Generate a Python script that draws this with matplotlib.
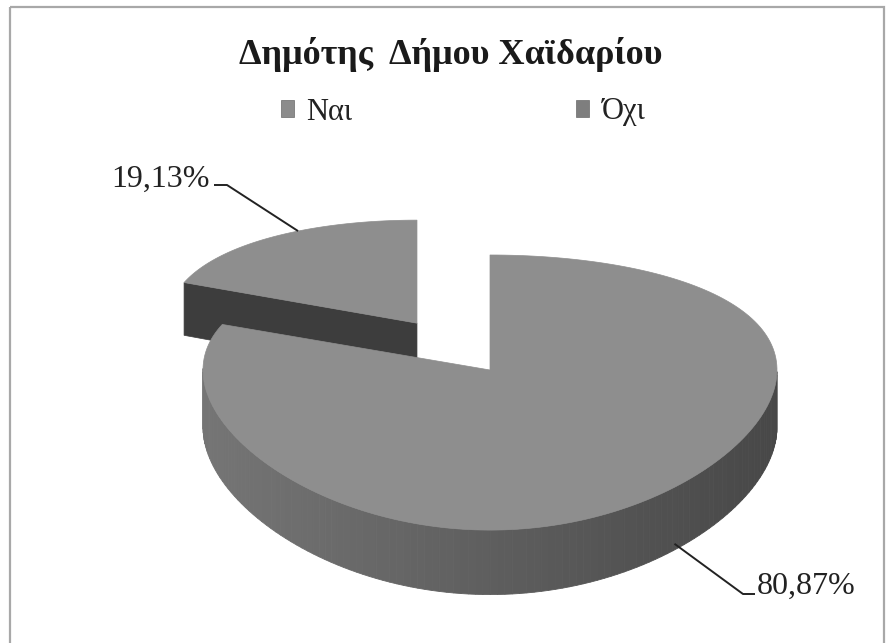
import numpy as np
import matplotlib.pyplot as plt
from matplotlib.patches import Polygon, Rectangle, Patch

plt.rcParams['font.family'] = ['Liberation Serif', 'DejaVu Serif']

# data
labels = ['Ναι', 'Όχι']
shares = [80.87, 19.13]
pct_text = ['80,87%', '19,13%']
explode = [0.0, 0.45]

top_color = '#8e8e8e'
legend_colors = ['#8c8c8c', '#7e7e7e']
face_color = '#3d3d3d'

# view parameters (pixel space)
cx, cy = 490, 370          # projected centre of the pie
S = 287                    # radius in px
el = np.radians(27.8)      # elevation
D = 5.4                    # perspective distance
h = 0.23                   # thickness


def proj(x, y, z=0.0):
    v = y * np.sin(el) + z * np.cos(el)
    w = y * np.cos(el) - z * np.sin(el)
    f = D / (D + w)
    return cx + S * x, cy - S * v * f


fig = plt.figure(figsize=(8.88, 6.43), dpi=100)
ax = fig.add_axes([0, 0, 1, 1])
ax.set_xlim(0, 888)
ax.set_ylim(643, 0)
ax.axis('off')

# frame
ax.add_patch(Rectangle((10, 7), 874, 660, fill=False, ec='#a8a8a8', lw=1.6))

# slice angles (clockwise from 12 o'clock)
slices = []
start = 90.0
for s in shares:
    t1 = start - 360 * s / 100
    slices.append((t1, start))
    start = t1

# draw back slice (Όχι) first, then Ναι
for i in [1, 0]:
    t1, t2 = slices[i]
    mid = np.radians((t1 + t2) / 2)
    ox, oy = explode[i] * np.cos(mid), explode[i] * np.sin(mid)
    th = np.radians(np.linspace(t1, t2, 200))
    # far slices look a little narrower
    sx = 0.87 if explode[i] > 0 else 1.0

    def P(a, r=1.0, z=0.0):
        return proj(ox + sx * r * np.cos(a), oy + r * np.sin(a), z)

    # radial face at the ccw end
    a2 = np.radians(t2)
    if np.cos(a2) < -1e-6:
        pts = [P(a2, 0, 0), P(a2, 1, 0), P(a2, 1, -h), P(a2, 0, -h)]
        ax.add_patch(Polygon(pts, closed=True, fc=face_color, ec=face_color, lw=0.5))

    # outer wall (front half only)
    for a, b in zip(th[:-1], th[1:]):
        m = (a + b) / 2
        if np.sin(m) >= 0:
            continue
        g = 0.37 - 0.09 * np.cos(m)
        col = (g, g, g)
        pts = [P(a, 1, 0), P(b, 1, 0), P(b, 1, -h), P(a, 1, -h)]
        ax.add_patch(Polygon(pts, closed=True, fc=col, ec=col, lw=0.6))

    # top face
    pts = [P(0, 0, 0)] + [P(a, 1, 0) for a in th]
    ax.add_patch(Polygon(pts, closed=True, fc=top_color, ec=top_color, lw=0.5))

    if i == 1:
        anchor_small = P(np.radians((t1 + t2) / 2 - 6), 1, 0)

# data labels with leader lines
ax0, ay0 = anchor_small
ax.plot([ax0, 227, 214], [ay0, 185, 185], color='#222222', lw=1.4, solid_capstyle='butt')
ax.text(210, 179, pct_text[1], fontsize=23, ha='right', va='center', color='#222222')

m = np.radians(-50)
bx, by = proj(np.cos(m), np.sin(m), -h * 0.9)
ax.plot([bx, 743, 755], [by, 594, 594], color='#222222', lw=1.4, solid_capstyle='butt')
ax.text(757, 586, pct_text[0], fontsize=23, ha='left', va='center', color='#222222')

# title and legend
ax.text(451, 55, 'Δημότης  Δήμου Χαϊδαρίου', fontsize=26, fontweight='bold',
        ha='center', va='center', color='#1a1a1a')
handles = [Patch(fc=c, ec='#6a6a6a', lw=0.5) for c in legend_colors]
ax.legend(handles, labels, loc='center', bbox_to_anchor=(463 / 888, 1 - 112 / 643), ncol=2,
          frameon=False, fontsize=22, handlelength=0.45, handleheight=0.45,
          handletextpad=0.4, columnspacing=7.3, labelcolor='#222222')

fig.savefig('out.png', dpi=100)
